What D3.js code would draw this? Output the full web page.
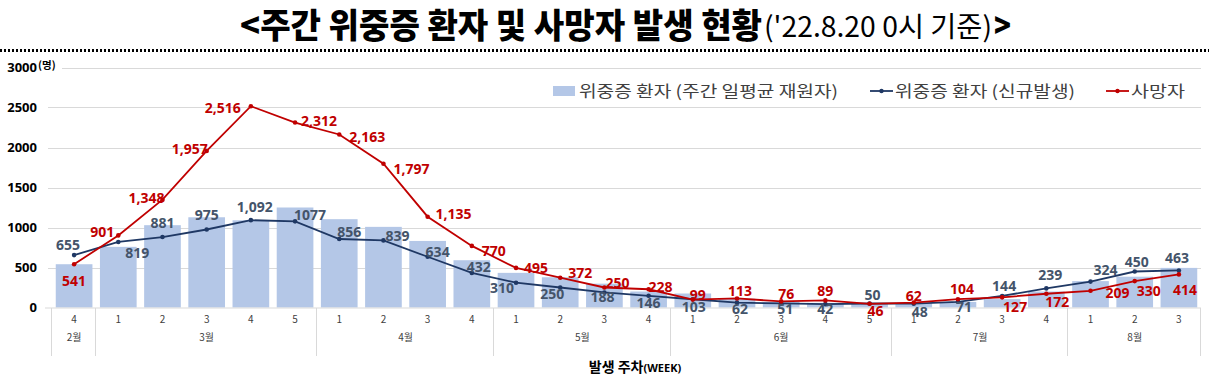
<!DOCTYPE html>
<html>
<head>
<meta charset="utf-8">
<script src="https://d3js.org/d3.v7.min.js"></script>
<style>
body { margin: 0; background: #fff; }
svg { display: block; font-family: "Noto Sans CJK KR", "Noto Sans", sans-serif; }
</style>
</head>
<body>
<div id="chart"></div>
<script>
// week number and month under each bar
var weekNo = ['4','1','2','3','4','5','1','2','3','4','1','2','3','4','1','2','3','4','5','1','2','3','4','1','2','3'];
var monthOf = ['2월','3월','3월','3월','3월','3월','4월','4월','4월','4월','5월','5월','5월','5월',
               '6월','6월','6월','6월','6월','7월','7월','7월','7월','8월','8월','8월'];

// 위중증 환자 (주간 일평균 재원자)
var inHospital = [541, 758, 1029, 1128, 1090, 1250, 1104, 1008, 832, 591, 433, 378, 298, 200,
                  175, 110, 72, 58, 50, 52, 70, 105, 200, 330, 385, 495];
// 위중증 환자 (신규발생)
var newSevere = [655, 819, 881, 975, 1092, 1077, 856, 839, 634, 432, 310, 250, 188, 146,
                 103, 62, 51, 42, 50, 48, 71, 144, 239, 324, 450, 463];
// 사망자
var deaths = [541, 901, 1348, 1957, 2516, 2312, 2163, 1797, 1135, 770, 495, 372, 250, 228,
              99, 113, 76, 89, 46, 62, 104, 127, 172, 209, 330, 414];

var newLabels = ['655','819','881','975','1,092','1077','856','839','634','432','310','250','188','146',
                 '103','62','51','42','50','48','71','144','239','324','450','463'];
var deathLabels = ['541','901','1,348','1,957','2,516','2,312','2,163','1,797','1,135','770','495','372','250','228',
                   '99','113','76','89','46','62','104','127','172','209','330','414'];

var yTicks = [0, 500, 1000, 1500, 2000, 2500, 3000];

// label nudges (px from the point), as placed in the original
var newNudge = [[-6,-10],[19,11],[0,-14],[0,-14],[4,-13],[15,-6],[10,-7],[14,-4],[10,-5],[7,-6],
                [-14,5],[-8,7],[-2,5],[0,7],[1,8],[3,7],[4,6],[0,5],[3,-8],[6,8],[6,5],[2,-10],
                [4,-13],[15,-11],[2,-9],[-2,-12]];
var deathNudge = [[0,17],[-16,-3],[-16,-2],[-17,-2],[-28,2],[24,-1],[28,3],[28,5],[26,-3],[22,5],
                  [20,0],[20,-5],[13,-4],[12,-2],[5,-4],[3,-7],[5,-7],[0,-9],[6,7],[0,-6],[4,-10],
                  [13,10],[11,8],[27,2],[14,10],[6,16]];

var W = 1209, H = 381;
var svg = d3.select("#chart").append("svg").attr("width", W).attr("height", H);

// title
svg.append("text").attr("x", 240).attr("y", 38)
    .attr("font-size", 34).attr("font-weight", 900).attr("fill", "#000")
    .attr("textLength", 522).attr("lengthAdjust", "spacingAndGlyphs")
    .text("<주간 위중증 환자 및 사망자 발생 현황");
svg.append("text").attr("x", 764).attr("y", 37)
    .attr("font-size", 28).attr("font-weight", 400).attr("fill", "#000")
    .attr("textLength", 228).attr("lengthAdjust", "spacingAndGlyphs")
    .text("('22.8.20 0시 기준)");
svg.append("text").attr("x", 994).attr("y", 38)
    .attr("font-size", 34).attr("font-weight", 900).attr("fill", "#000")
    .attr("textLength", 17).attr("lengthAdjust", "spacingAndGlyphs")
    .text(">");

// dotted rule under the title
svg.append("line").attr("x1", 0).attr("x2", W).attr("y1", 50.5).attr("y2", 50.5)
    .attr("stroke", "#000").attr("stroke-width", 3).attr("stroke-dasharray", "2,2");

var idx = d3.range(weekNo.length);
var x = d3.scaleBand().domain(idx).range([52, 1201]).paddingInner(0.17).paddingOuter(0.085);
var step = x.step();
var y = d3.scaleLinear().domain([0, 3000]).range([307.5, 67.5]);
var cx = function(i) { return x(i) + x.bandwidth() / 2; };

// gridlines
svg.append("g").selectAll("line").data(yTicks.slice(1)).enter().append("line")
    .attr("x1", 48).attr("x2", 1201)
    .attr("y1", d => Math.round(y(d)) + 0.5).attr("y2", d => Math.round(y(d)) + 0.5)
    .attr("stroke", "#d9d9d9").attr("stroke-width", 1);

// y labels
var yAxis = svg.append("g").attr("transform", "translate(37,0)")
    .call(d3.axisLeft(y).tickValues(yTicks).tickFormat(d3.format("d")).tickSize(0).tickPadding(0));
yAxis.select(".domain").remove();
yAxis.selectAll("text").attr("font-size", 13).attr("font-weight", 700).attr("fill", "#000")
    .attr("font-family", "'Noto Sans', sans-serif");
svg.append("rect").attr("x", 38).attr("y", y(3000) - 8).attr("width", 24).attr("height", 14).attr("fill", "#fff");
svg.append("text").attr("x", 38).attr("y", y(3000) + 1).attr("font-size", 10.5).attr("font-weight", 700)
    .attr("fill", "#000").text("(명)");

// bars
svg.append("g").selectAll("rect").data(inHospital).enter().append("rect")
    .attr("x", (d, i) => x(i)).attr("width", x.bandwidth())
    .attr("y", d => y(d)).attr("height", d => y(0) - y(d))
    .attr("fill", "#b4c7e7");

// category table under the plot
var tbl = svg.append("g").attr("stroke", "#d9d9d9").attr("stroke-width", 1);
tbl.append("line").attr("x1", 45).attr("x2", 1201).attr("y1", 308).attr("y2", 308);
var bounds = [0];
idx.forEach(function(i) { if (i > 0 && monthOf[i] !== monthOf[i - 1]) bounds.push(i); });
bounds.push(idx.length);
tbl.selectAll("line.sep").data(bounds).enter().append("line").attr("class", "sep")
    .attr("x1", b => Math.round(52 + b * step) - 0.5).attr("x2", b => Math.round(52 + b * step) - 0.5)
    .attr("y1", 308).attr("y2", 356);

svg.append("g").selectAll("text").data(weekNo).enter().append("text")
    .attr("x", (d, i) => cx(i)).attr("y", 323)
    .attr("text-anchor", "middle").attr("font-size", 10).attr("fill", "#404040")
    .text(d => d);
var monthGroups = d3.groups(idx, i => monthOf[i]);
svg.append("g").selectAll("text").data(monthGroups).enter().append("text")
    .attr("x", g => (x(g[1][0]) + x(g[1][g[1].length - 1]) + x.bandwidth()) / 2)
    .attr("y", 341).attr("text-anchor", "middle").attr("font-size", 10).attr("fill", "#404040")
    .text(g => g[0]);

// x title
var xt = svg.append("text").attr("x", 635).attr("y", 372).attr("text-anchor", "middle")
    .attr("font-weight", 700).attr("fill", "#000");
xt.append("tspan").attr("font-size", 14).text("발생 주차");
xt.append("tspan").attr("font-size", 11).attr("font-family", "'Noto Sans', sans-serif").text("(WEEK)");

// lines
function drawLine(values, color) {
    var line = d3.line().x((d, i) => cx(i)).y(d => y(d));
    svg.append("path").datum(values).attr("d", line)
        .attr("fill", "none").attr("stroke", color).attr("stroke-width", 1.8);
    svg.append("g").selectAll("circle").data(values).enter().append("circle")
        .attr("cx", (d, i) => cx(i)).attr("cy", d => y(d)).attr("r", 2.3).attr("fill", color);
}
drawLine(newSevere, "#1f3864");
drawLine(deaths, "#c00000");

// value labels
function drawLabels(values, texts, nudge, color) {
    svg.append("g").selectAll("text").data(values).enter().append("text")
        .attr("x", (d, i) => cx(i) + nudge[i][0]).attr("y", (d, i) => y(d) + nudge[i][1])
        .attr("dy", "0.35em").attr("text-anchor", "middle")
        .attr("font-family", "'Noto Sans', sans-serif")
        .attr("font-size", 14).attr("font-weight", 700).attr("fill", color)
        .text((d, i) => texts[i]);
}
drawLabels(newSevere, newLabels, newNudge, "#44546a");
drawLabels(deaths, deathLabels, deathNudge, "#c00000");

// legend
var lg = svg.append("g").attr("font-size", 16).attr("fill", "#404040");
lg.append("rect").attr("x", 553).attr("y", 86).attr("width", 22).attr("height", 10).attr("fill", "#b4c7e7");
lg.append("text").attr("x", 579).attr("y", 97).attr("textLength", 259).attr("lengthAdjust", "spacingAndGlyphs")
    .text("위중증 환자 (주간 일평균 재원자)");
[[870, 893, "#1f3864", "위중증 환자 (신규발생)", 180], [1106, 1129, "#c00000", "사망자", 54]].forEach(function(l) {
    lg.append("line").attr("x1", l[0]).attr("x2", l[1]).attr("y1", 91).attr("y2", 91)
        .attr("stroke", l[2]).attr("stroke-width", 1.8);
    lg.append("circle").attr("cx", (l[0] + l[1]) / 2).attr("cy", 91).attr("r", 2.2).attr("fill", l[2]);
    lg.append("text").attr("x", l[1] + 2).attr("y", 97).attr("textLength", l[4])
        .attr("lengthAdjust", "spacingAndGlyphs").text(l[3]);
});
</script>
</body>
</html>
